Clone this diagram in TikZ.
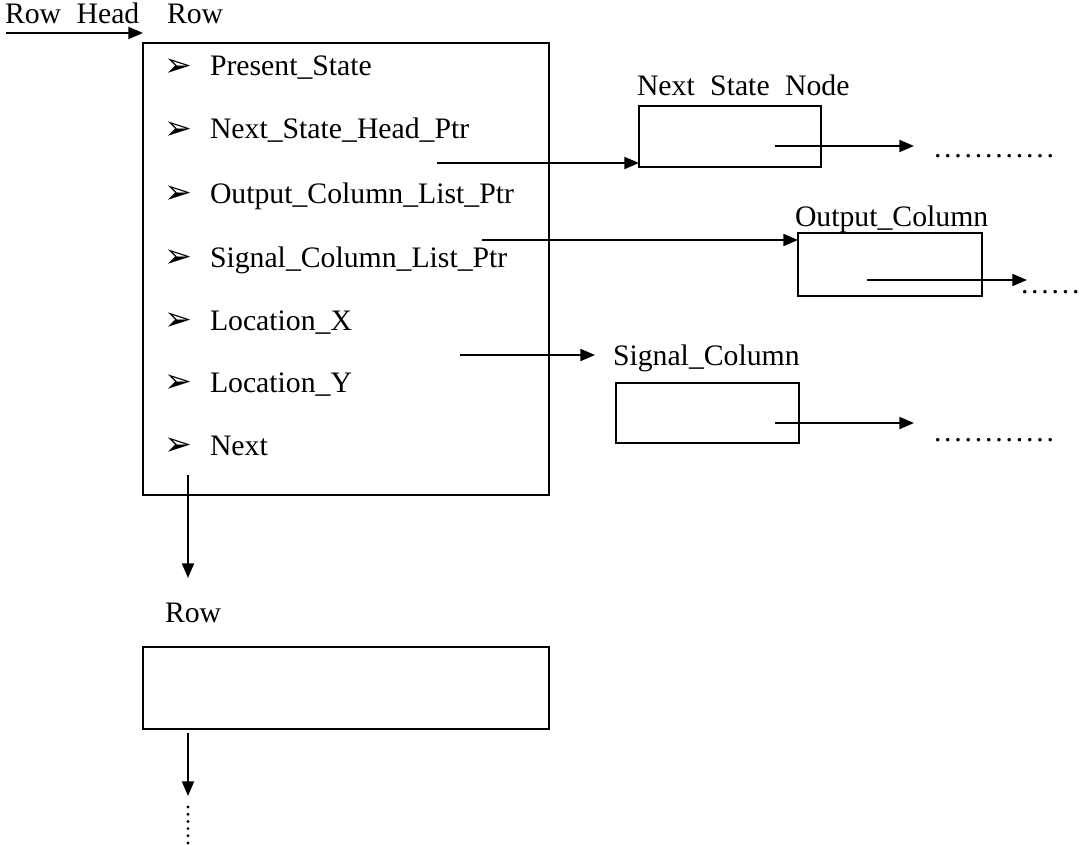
\documentclass[tikz,border=0pt]{standalone}
\usepackage{fontspec}
\setmainfont{Liberation Serif}
\newfontfamily\symfont{DejaVu Sans}
\usetikzlibrary{arrows.meta,calc}
\newcommand\pd{.\hspace{2.1pt}}
\begin{document}
\begin{tikzpicture}[x=0.75pt,y=-0.75pt,
  every node/.style={font=\fontsize{22.3}{26}\selectfont},
  lbl/.style={anchor=base west,inner sep=0pt,outer sep=0pt},
  bul/.style={anchor=center,inner sep=0pt,font=\symfont\fontsize{25}{28}\selectfont},
  box/.style={draw,line width=1.6pt,inner sep=0pt,outer sep=0pt},
  ptr/.style={line width=1.5pt,-{Triangle[length=11pt,width=9pt]}},
  dotv/.style={line width=2.4pt,line cap=round,dash pattern=on 0pt off 5.4pt}]
\useasboundingbox (0,0) rectangle (1081,845);

% header
\node[lbl] (rowhead) at (5,24) {Row\hspace{6pt} Head};
\node[lbl] (rowlbl) at (167,24) {Row};
\coordinate (rhstart) at (6,33);

% the Row record
\node[box,minimum width=304.5pt,minimum height=339pt] (main) at (346,269) {};
\foreach \t/\y [count=\i] in {Present\_State/76,Next\_State\_Head\_Ptr/139,
    Output\_Column\_List\_Ptr/203,Signal\_Column\_List\_Ptr/267,
    Location\_X/330,Location\_Y/392,Next/455}{
  \node[bul] (b\i) at (178,\y-8) {➢};
  \node[lbl] (f\i) at (210,\y) {\t};
}
\draw[ptr] (rhstart) -- ($(main.north west)+(0,-10)$);

% next state node
\node[lbl] (nsnlbl) at (637,96) {Next\hspace{6pt} State\hspace{6pt} Node};
\node[box,minimum width=136.5pt,minimum height=45.75pt] (nsn) at (730,136.5) {};
\coordinate (p1) at (437,163);
\draw[ptr] (p1) -- (p1 -| nsn.west);
\coordinate (n1) at (775,146);
\coordinate (n1e) at (914,146);
\draw[ptr] (n1) -- (n1e);
\node[lbl] (nsndots) at (934,158) {\pd\pd\pd\pd\pd\pd\pd\pd\pd\pd\pd.};

% output column
\node[lbl] (oclbl) at (795,226) {Output\_Column};
\node[box,minimum width=138pt,minimum height=47.25pt] (oc) at (890,264.5) {};
\coordinate (p2) at (482,240);
\draw[ptr] (p2) -- (p2 -| oc.west);
\coordinate (n2) at (867,280);
\coordinate (n2e) at (1027,280);
\draw[ptr] (n2) -- (n2e);
\node[lbl] (ocdots) at (1021,293) {\pd\pd\pd\pd\pd.};

% signal column
\coordinate (p3) at (460,355);
\coordinate (p3e) at (595,355);
\draw[ptr] (p3) -- (p3e);
\node[lbl] (sclbl) at (613,365) {Signal\_Column};
\node[box,minimum width=137.25pt,minimum height=45pt] (sc) at (707.5,413) {};
\coordinate (n3) at (775,423);
\coordinate (n3e) at (914,423);
\draw[ptr] (n3) -- (n3e);
\node[lbl] (scdots) at (934,441) {\pd\pd\pd\pd\pd\pd\pd\pd\pd\pd\pd.};

% following Row record
\coordinate (nx) at (188,475);
\node[lbl] (row2lbl) at (165,622) {Row};
\node[box,minimum width=304.5pt,minimum height=61.5pt] (row2) at (346,688) {};
\draw[ptr] (nx) -- (nx |- 0,578);
\coordinate (nx2) at (188,733);
\coordinate (nx2e) at (188,796);
\draw[ptr] (nx2) -- (nx2e);
\coordinate (vd1) at (188,807);
\coordinate (vd2) at (188,844);
\draw[dotv] (vd1) -- (vd2);
\end{tikzpicture}
\end{document}
